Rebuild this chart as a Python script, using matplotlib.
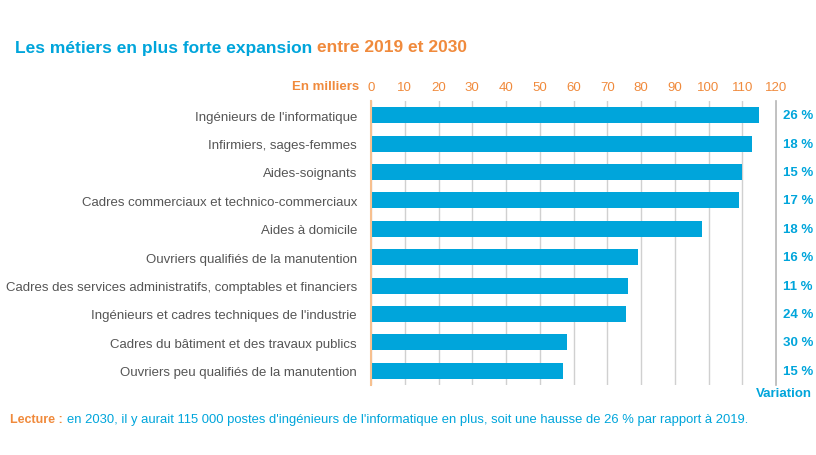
import matplotlib.pyplot as plt

plt.rcParams['font.family'] = ['Liberation Sans', 'DejaVu Sans']

BLUE = '#00a5db'
ORANGE = '#f08a3c'
GREY = '#555555'

metiers = [
    "Ingénieurs de l'informatique",
    "Infirmiers, sages-femmes",
    "Aides-soignants",
    "Cadres commerciaux et technico-commerciaux",
    "Aides à domicile",
    "Ouvriers qualifiés de la manutention",
    "Cadres des services administratifs, comptables et financiers",
    "Ingénieurs et cadres techniques de l'industrie",
    "Cadres du bâtiment et des travaux publics",
    "Ouvriers peu qualifiés de la manutention",
]
postes = [115, 113, 110, 109, 98, 79, 76, 75.5, 58, 57]
variation = [26, 18, 15, 17, 18, 16, 11, 24, 30, 15]
ticks = list(range(0, 130, 10))

fig = plt.figure(figsize=(8.16, 4.56), dpi=100)
ax = fig.add_axes([371 / 816, 1 - 386 / 456, 405 / 816, 284 / 456])

y = list(range(len(metiers)))
ax.barh(y, postes, height=0.56, color=BLUE, zorder=3)
ax.set_ylim(len(metiers) - 0.5, -0.5)
ax.set_xlim(0, 120)

ax.set_xticks(ticks)
ax.xaxis.tick_top()
ax.tick_params(axis='x', length=0, pad=6, labelsize=9.5, labelcolor=ORANGE)
ax.set_yticks(y)
ax.set_yticklabels(metiers)
ax.tick_params(axis='y', length=0, pad=10, labelsize=9.5, labelcolor=GREY)
ax.grid(axis='x', color='#d0d0d0', linewidth=1, zorder=0)
ax.axvline(120, color='#b5b5b5', linewidth=1.2, zorder=1, clip_on=False)
for s in ['top', 'bottom', 'right']:
    ax.spines[s].set_visible(False)
ax.spines['left'].set_color('#f7c08f')
ax.spines['left'].set_linewidth(1.5)
ax.spines['left'].set_zorder(4)

for i, v in enumerate(variation):
    ax.text(1.017, i, f'{v} %', transform=ax.get_yaxis_transform(),
            ha='left', va='center', color=BLUE, fontsize=9.5, fontweight='bold')

renderer = fig.canvas.get_renderer()
t1 = fig.text(15 / 816, 1 - 48 / 456, 'Les métiers en plus forte expansion', color=BLUE,
              fontsize=12.5, fontweight='bold', va='center', ha='left')
x1 = t1.get_window_extent(renderer).x1 / fig.bbox.width
fig.text(x1 + 5 / 816, 1 - 48 / 456, 'entre 2019 et 2030', color=ORANGE,
         fontsize=12.5, fontweight='bold', va='center', ha='left')
fig.text(359 / 816, 1 - 87 / 456, 'En milliers', color=ORANGE,
         fontsize=9.5, fontweight='bold', va='center', ha='right')
fig.text(812 / 816, 1 - 394 / 456, 'Variation', color=BLUE,
         fontsize=9.5, fontweight='bold', va='center', ha='right')
t2 = fig.text(10 / 816, 1 - 420 / 456, 'Lecture :', color=ORANGE,
              fontsize=9, fontweight='bold', va='center', ha='left')
x2 = t2.get_window_extent(renderer).x1 / fig.bbox.width
fig.text(x2 + 4 / 816, 1 - 420 / 456,
         "en 2030, il y aurait 115 000 postes d'ingénieurs de l'informatique en plus, "
         "soit une hausse de 26 % par rapport à 2019.",
         color=BLUE, fontsize=9.4, va='center', ha='left')

fig.savefig('out.png', dpi=100)
